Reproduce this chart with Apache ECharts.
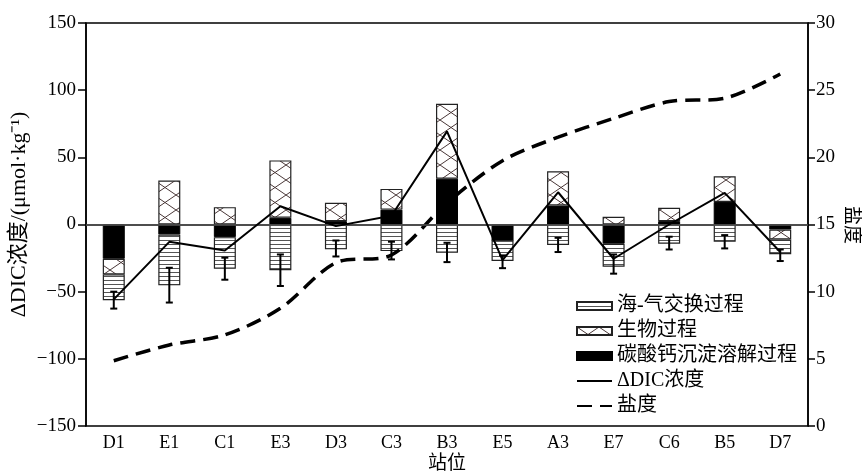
<!DOCTYPE html>
<html>
<head>
<meta charset="utf-8">
<script src="https://cdn.jsdelivr.net/npm/echarts@6/dist/echarts.min.js"></script>
<style>
  html, body { margin: 0; padding: 0; background: #fff; overflow: hidden; }
  #chart { width: 862px; height: 475px; }
</style>
</head>
<body>
<div id="chart"></div>
<script>
// Stations along the transect
const stations = ['D1', 'E1', 'C1', 'E3', 'D3', 'C3', 'B3', 'E5', 'A3', 'E7', 'C6', 'B5', 'D7'];

// Process contributions to ΔDIC (μmol·kg⁻¹)
const airSea     = [-19.3, -37.9, -23.5, -34.1, -18.5, -19.8, -21.0, -15.3, -15.3, -17.1, -14.3, -12.9, -11.1];
const biological = [-11.6,  32.7,  12.9,  42.7,  13.6,  15.4,  55.7,   0.0,  25.5,   5.7,   9.9,  19.1,  -7.4];
const carbonate  = [-25.5,  -7.4,  -9.4,   5.0,   2.5,  11.1,  34.1, -11.9,  14.1, -14.3,   2.5,  16.8,  -3.7];

// Observed ΔDIC concentration (μmol·kg⁻¹)
const deltaDIC   = [-55.7, -12.9, -19.3,  13.6,  -1.2,   6.5,  69.3, -26.5,  24.0, -25.5,   0.0,  23.5, -20.5];

// Error range of the air-sea term (upper and lower ends)
const errUpper   = [-50.0, -32.2, -24.7, -22.3, -11.9, -12.8, -13.6, -23.0,  -9.9, -22.3,  -9.1,  -7.9, -18.6];
const errLower   = [-62.6, -58.1, -41.1, -45.8, -23.8, -26.0, -28.0, -32.5, -20.5, -36.6, -18.6, -17.8, -27.2];

// Salinity
const salinity   = [4.86, 6.03, 6.78, 8.76, 12.16, 12.73, 16.6, 19.75, 21.5, 22.9, 24.15, 24.4, 26.2];

const FONT = '"Liberation Serif", "Noto Sans CJK SC", serif';

// Fill tiles for the bar patterns
function hatchTile() {
  const c = document.createElement('canvas');
  c.width = 8; c.height = 4;
  const g = c.getContext('2d');
  g.fillStyle = '#fff'; g.fillRect(0, 0, 8, 4);
  g.fillStyle = '#555'; g.fillRect(0, 0, 8, 1);
  return c;
}
function crossTile() {
  const w = 22, h = 15;
  const c = document.createElement('canvas');
  c.width = w; c.height = h;
  const g = c.getContext('2d');
  g.fillStyle = '#fff'; g.fillRect(0, 0, w, h);
  g.strokeStyle = '#4a3838'; g.lineWidth = 1;
  g.beginPath();
  g.moveTo(0, 0); g.lineTo(w, h);
  g.moveTo(w, 0); g.lineTo(0, h);
  g.stroke();
  return c;
}

const minus = v => String(v).replace('-', '\u2212');

const chart = echarts.init(document.getElementById('chart'), null, { renderer: 'canvas' });

const barCommon = { type: 'bar', stack: 'dic', barWidth: 22 };

chart.setOption({
  animation: false,
  backgroundColor: '#fff',
  textStyle: { fontFamily: FONT },
  grid: {
    left: 86, right: 54, top: 23, bottom: 49,
    outerBoundsMode: 'none',
    containLabel: false,
    show: true, borderColor: '#000', borderWidth: 1.5, backgroundColor: 'transparent'
  },
  // Title of the right-hand salinity axis, set vertically beside the tick labels
  graphic: [{
    type: 'text',
    x: 851,
    y: 225,
    rotation: -Math.PI / 2,
    style: {
      text: '盐度',
      font: '19px ' + FONT,
      fill: '#000',
      align: 'center',
      verticalAlign: 'middle'
    }
  }],
  legend: {
    orient: 'vertical',
    left: 571, top: 291,
    itemWidth: 35, itemHeight: 8, itemGap: 5,
    textStyle: { fontSize: 20, color: '#000', fontFamily: FONT, lineHeight: 20 },
    data: [
      { name: '海-气交换过程', icon: 'rect' },
      { name: '生物过程', icon: 'rect' },
      { name: '碳酸钙沉淀溶解过程', icon: 'rect' },
      { name: 'ΔDIC浓度', itemStyle: { opacity: 0 } },
      { name: '盐度', itemStyle: { opacity: 0 } }
    ]
  },
  xAxis: {
    type: 'category',
    data: stations,
    boundaryGap: true,
    name: '站位',
    nameLocation: 'middle',
    nameGap: 29,
    nameMoveOverlap: false,
    nameTextStyle: { fontSize: 19, color: '#000', fontFamily: FONT },
    axisLine: { lineStyle: { color: '#000', width: 1.5 } },
    axisTick: { show: false },
    axisLabel: { fontSize: 18, color: '#000', margin: 8, fontFamily: FONT }
  },
  yAxis: [
    {
      type: 'value',
      min: -150, max: 150, interval: 50,
      name: 'ΔDIC浓度/(μmol·kg⁻¹)',
      nameLocation: 'middle',
      nameGap: 56,
      nameMoveOverlap: false,
      nameTextStyle: { fontSize: 22, color: '#000', fontFamily: FONT, padding: [0, 0, 0, 20] },
      axisLine: { show: true, lineStyle: { color: '#000', width: 1.5 } },
      axisTick: { show: true, length: 8, lineStyle: { color: '#000', width: 1.5 } },
      axisLabel: { fontSize: 19, color: '#000', margin: 10, fontFamily: FONT, formatter: minus },
      splitLine: { show: false }
    },
    {
      type: 'value',
      position: 'right',
      min: 0, max: 30, interval: 5,
      axisLine: { show: true, lineStyle: { color: '#000', width: 1.5 } },
      axisTick: { show: true, length: 7, lineStyle: { color: '#000', width: 1.5 } },
      axisLabel: { fontSize: 19, color: '#000', margin: 8, fontFamily: FONT },
      splitLine: { show: false }
    }
  ],
  series: [
    {
      ...barCommon,
      name: '碳酸钙沉淀溶解过程',
      data: carbonate,
      itemStyle: { color: '#000', borderColor: '#000', borderWidth: 1 }
    },
    {
      ...barCommon,
      name: '生物过程',
      data: biological,
      itemStyle: { color: { image: crossTile(), repeat: 'repeat' }, borderColor: '#222', borderWidth: 1.2 }
    },
    {
      ...barCommon,
      name: '海-气交换过程',
      data: airSea,
      itemStyle: { color: { image: hatchTile(), repeat: 'repeat' }, borderColor: '#222', borderWidth: 1.2 }
    },
    {
      type: 'custom',
      name: 'error',
      z: 5,
      data: stations.map((s, i) => [i, errUpper[i], errLower[i]]),
      renderItem: function (params, api) {
        const x = api.value(0);
        const p1 = api.coord([x, api.value(1)]);
        const p2 = api.coord([x, api.value(2)]);
        const cap = 3.5;
        const st = { stroke: '#000', lineWidth: 2 };
        return {
          type: 'group',
          children: [
            { type: 'line', shape: { x1: p1[0], y1: p1[1], x2: p2[0], y2: p2[1] }, style: st },
            { type: 'line', shape: { x1: p1[0] - cap, y1: p1[1], x2: p1[0] + cap, y2: p1[1] }, style: st },
            { type: 'line', shape: { x1: p2[0] - cap, y1: p2[1], x2: p2[0] + cap, y2: p2[1] }, style: st }
          ]
        };
      }
    },
    {
      type: 'line',
      name: 'ΔDIC浓度',
      data: deltaDIC,
      symbol: 'none',
      z: 6,
      itemStyle: { color: '#000' },
      lineStyle: { color: '#000', width: 2 },
      markLine: {
        silent: true,
        symbol: 'none',
        label: { show: false },
        lineStyle: { color: '#555', width: 1.5, type: 'solid' },
        data: [{ yAxis: 0 }]
      }
    },
    {
      type: 'line',
      name: '盐度',
      yAxisIndex: 1,
      data: salinity,
      smooth: 0.3,
      symbol: 'none',
      z: 4,
      itemStyle: { color: '#000' },
      lineStyle: { color: '#000', width: 3.5, type: [15, 8] }
    }
  ]
});
</script>
</body>
</html>
